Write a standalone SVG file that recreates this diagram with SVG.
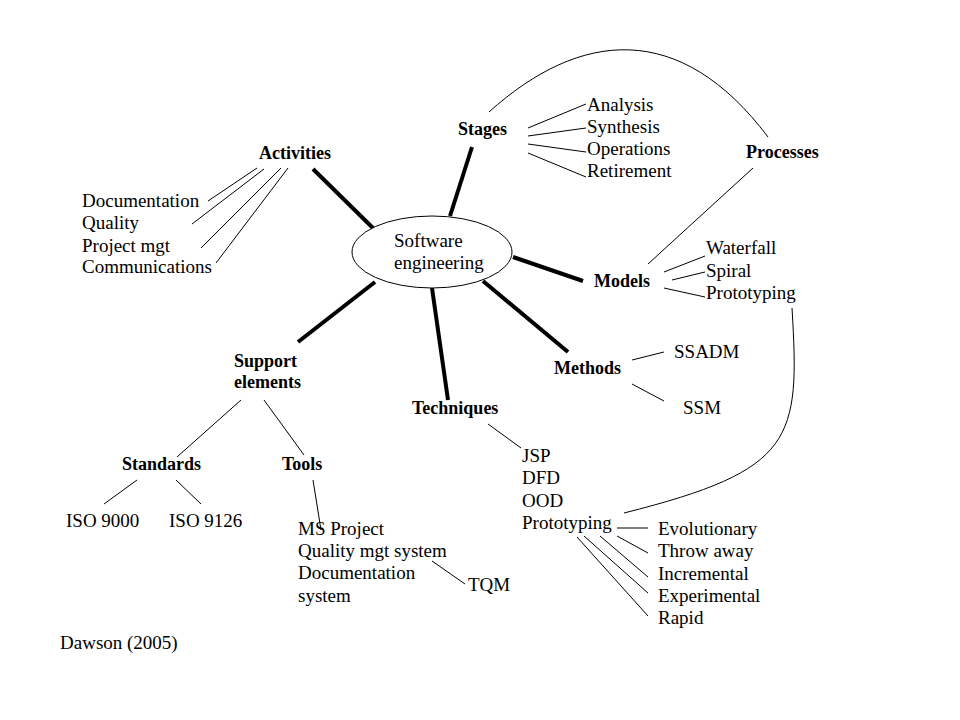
<svg xmlns="http://www.w3.org/2000/svg" width="960" height="720" viewBox="0 0 960 720">
<style>
text{font-family:"Liberation Serif","Times New Roman",serif;font-size:19px;fill:#000}
.b{font-weight:bold;font-size:18px}
.thick{stroke:#000;stroke-width:4;fill:none}
.thin{stroke:#000;stroke-width:1;fill:none}
</style>
<rect width="960" height="720" fill="#fff"/>
<g id="connectors">
<line class="thick" x1="313" y1="169" x2="376" y2="231"/>
<line class="thick" x1="472" y1="147" x2="450" y2="216"/>
<line class="thick" x1="513" y1="257" x2="583" y2="281"/>
<line class="thick" x1="483" y1="281" x2="568" y2="352"/>
<line class="thick" x1="432" y1="288" x2="448" y2="400"/>
<line class="thick" x1="375" y1="282" x2="298" y2="342"/>
<line class="thin" x1="257" y1="168" x2="208" y2="201"/>
<line class="thin" x1="264" y1="169" x2="192" y2="224"/>
<line class="thin" x1="281" y1="168" x2="201" y2="248"/>
<line class="thin" x1="288" y1="168" x2="216" y2="263"/>
<line class="thin" x1="528" y1="128" x2="586" y2="104"/>
<line class="thin" x1="528" y1="136" x2="586" y2="128"/>
<line class="thin" x1="528" y1="144" x2="586" y2="152"/>
<line class="thin" x1="528" y1="153" x2="586" y2="177"/>
<path class="thin" d="M489,112 C580,30 680,20 768,137"/>
<line class="thin" x1="753" y1="168" x2="648" y2="264"/>
<line class="thin" x1="664" y1="272" x2="705" y2="256"/>
<line class="thin" x1="672" y1="280" x2="705" y2="272"/>
<line class="thin" x1="664" y1="288" x2="705" y2="297"/>
<line class="thin" x1="632" y1="360" x2="664" y2="352"/>
<line class="thin" x1="632" y1="384" x2="664" y2="401"/>
<path class="thin" d="M792,308 C800,440 795,470 624,513"/>
<line class="thin" x1="488" y1="424" x2="521" y2="448"/>
<line class="thin" x1="617" y1="528" x2="648" y2="528"/>
<line class="thin" x1="617" y1="536" x2="648" y2="553"/>
<line class="thin" x1="600" y1="536" x2="648" y2="577"/>
<line class="thin" x1="584" y1="536" x2="648" y2="593"/>
<line class="thin" x1="577" y1="537" x2="648" y2="616"/>
<line class="thin" x1="432" y1="561" x2="465" y2="584"/>
<line class="thin" x1="241" y1="400" x2="177" y2="457"/>
<line class="thin" x1="264" y1="400" x2="304" y2="455"/>
<line class="thin" x1="137" y1="480" x2="104" y2="504"/>
<line class="thin" x1="176" y1="480" x2="201" y2="504"/>
<line class="thin" x1="313" y1="480" x2="321" y2="530"/>
</g>
<g id="center">
<ellipse cx="432" cy="252" rx="80" ry="36" fill="#fff" stroke="#000" stroke-width="1"/>
<text x="394" y="247">Software</text>
<text x="394" y="269">engineering</text>
</g>
<g id="activities">
<text class="b" x="259" y="159">Activities</text>
<text x="82" y="207">Documentation</text>
<text x="82" y="229">Quality</text>
<text x="82" y="252">Project mgt</text>
<text x="82" y="273">Communications</text>
</g>
<g id="stages">
<text class="b" x="458" y="135">Stages</text>
<text x="587" y="111">Analysis</text>
<text x="587" y="133">Synthesis</text>
<text x="587" y="155">Operations</text>
<text x="587" y="177">Retirement</text>
</g>
<g id="processes">
<text class="b" x="746" y="158">Processes</text>
</g>
<g id="models">
<text class="b" x="594" y="287">Models</text>
<text x="706" y="254">Waterfall</text>
<text x="706" y="277">Spiral</text>
<text x="706" y="299">Prototyping</text>
</g>
<g id="methods">
<text class="b" x="554" y="374">Methods</text>
<text x="674" y="358">SSADM</text>
<text x="683" y="414">SSM</text>
</g>
<g id="techniques">
<text class="b" x="412" y="414">Techniques</text>
<text x="522" y="462">JSP</text>
<text x="522" y="484">DFD</text>
<text x="522" y="507">OOD</text>
<text x="522" y="529">Prototyping</text>
</g>
<g id="prototyping-types">
<text x="658" y="535">Evolutionary</text>
<text x="658" y="557">Throw away</text>
<text x="658" y="580">Incremental</text>
<text x="658" y="602">Experimental</text>
<text x="658" y="624">Rapid</text>
</g>
<g id="support">
<text class="b" x="234" y="367">Support</text>
<text class="b" x="234" y="388">elements</text>
</g>
<g id="standards">
<text class="b" x="122" y="470">Standards</text>
<text x="66" y="527">ISO 9000</text>
<text x="169" y="527">ISO 9126</text>
</g>
<g id="tools">
<text class="b" x="282" y="470">Tools</text>
<text x="298" y="535">MS Project</text>
<text x="298" y="557">Quality mgt system</text>
<text x="298" y="579">Documentation</text>
<text x="298" y="602">system</text>
<text x="468" y="591">TQM</text>
</g>
<g id="credit">
<text x="60" y="649">Dawson (2005)</text>
</g>
</svg>
